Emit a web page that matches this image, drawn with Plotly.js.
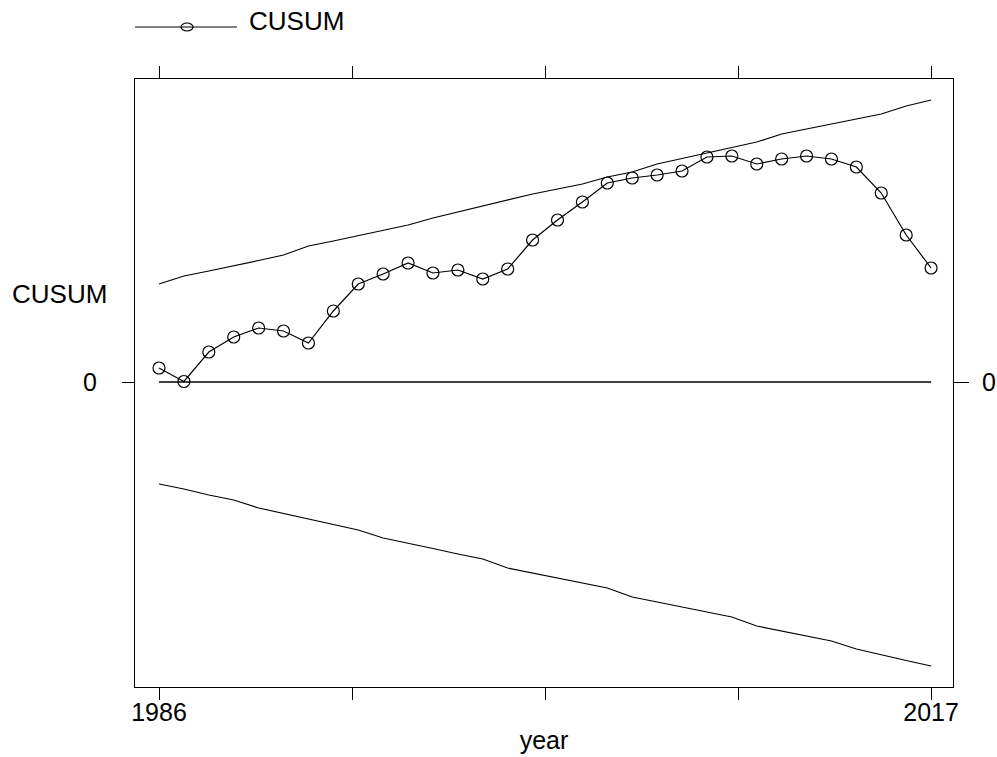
<!DOCTYPE html>
<html>
<head>
<meta charset="utf-8">
<script src="https://cdn.plot.ly/plotly-3.0.1.min.js"></script>
<style>html,body{margin:0;padding:0;background:#fff;}#chart{width:997px;height:757px;}</style>
</head>
<body>
<div id="chart"></div>
<script>
var years = [1986,1987,1988,1989,1990,1991,1992,1993,1994,1995,1996,1997,1998,1999,2000,2001,2002,2003,2004,2005,2006,2007,2008,2009,2010,2011,2012,2013,2014,2015,2016,2017];
var cusum = [1.4,0.05,3.0,4.5,5.4,5.1,3.9,7.1,9.8,10.8,11.9,10.9,11.2,10.3,11.3,14.2,16.2,18.0,19.9,20.4,20.7,21.1,22.5,22.6,21.8,22.3,22.6,22.3,21.5,18.9,14.7,11.4];
var upper = [9.8,10.6,11.1,11.6,12.15,12.7,13.6,14.1,14.65,15.2,15.7,16.4,17.0,17.6,18.2,18.8,19.3,19.8,20.5,21.0,21.8,22.35,22.9,23.4,24.0,24.8,25.3,25.8,26.3,26.8,27.6,28.2];
var lower = [-10.2,-10.7,-11.3,-11.8,-12.6,-13.15,-13.7,-14.25,-14.8,-15.6,-16.1,-16.65,-17.2,-17.7,-18.6,-19.1,-19.6,-20.1,-20.6,-21.5,-22.0,-22.5,-23.0,-23.5,-24.4,-24.9,-25.4,-25.9,-26.7,-27.3,-27.85,-28.4];
var seriesName = 'CUSUM';
var xTitle = 'year';
var yTitle = 'CUSUM';

var first = years[0], last = years[years.length-1];
var xtickvals = [], xticktext = [];
for (var k = 0; k <= 4; k++) {
  xtickvals.push(first + k*(last-first)/4);
  xticktext.push(k === 0 ? String(first) : (k === 4 ? String(last) : ''));
}

var FONT = 'Liberation Sans, Arial, sans-serif';
var yr = [-30.5, 30.3];

var traces = [
  {x: years, y: upper, type: 'scatter', mode: 'lines', line: {color: '#000', width: 1.2}, hoverinfo: 'skip'},
  {x: years, y: lower, type: 'scatter', mode: 'lines', line: {color: '#000', width: 1.2}, hoverinfo: 'skip'},
  {x: [first, last], y: [0, 0], type: 'scatter', mode: 'lines', line: {color: '#000', width: 1.3}, yaxis: 'y2', hoverinfo: 'skip'},
  {x: years, y: cusum, name: seriesName, type: 'scatter', mode: 'lines+markers',
   line: {color: '#000', width: 1.2},
   marker: {symbol: 'circle-open', size: 12, color: '#000', line: {width: 1.2, color: '#000'}}}
];

var layout = {
  width: 997, height: 757,
  margin: {l: 135, r: 44, t: 79, b: 70, pad: 0},
  paper_bgcolor: '#fff', plot_bgcolor: '#fff',
  showlegend: false,
  font: {family: FONT, size: 25, color: '#000'},
  xaxis: {
    range: [1985.036, 2017.88],
    tickmode: 'array', tickvals: xtickvals, ticktext: xticktext,
    ticks: 'outside', ticklen: 12, tickwidth: 1, tickcolor: '#000',
    ticklabelstandoff: -9,
    showline: true, linecolor: '#000', linewidth: 1, mirror: 'ticks',
    showgrid: false, zeroline: false,
    tickfont: {family: FONT, size: 25, color: '#000'},
    title: {text: xTitle, font: {family: FONT, size: 25, color: '#000'}, standoff: 6}
  },
  yaxis: {
    range: yr,
    tickmode: 'array', tickvals: [0], ticktext: ['0'],
    ticks: 'outside', ticklen: 12, tickwidth: 1, tickcolor: '#000',
    ticklabelstandoff: 20,
    showline: true, linecolor: '#000', linewidth: 1, mirror: true,
    showgrid: false, zeroline: false,
    tickfont: {family: FONT, size: 25, color: '#000'}
  },
  yaxis2: {
    range: yr, overlaying: 'y', side: 'right',
    tickmode: 'array', tickvals: [0], ticktext: ['0'],
    ticks: 'outside', ticklen: 15, tickwidth: 1, tickcolor: '#000',
    ticklabelstandoff: 8,
    showline: false, showgrid: false, zeroline: false,
    tickfont: {family: FONT, size: 25, color: '#000'}
  },
  shapes: [
    {type: 'line', xref: 'paper', yref: 'paper', x0: 0, x1: 0.1247, y0: 1.0855, y1: 1.0855, line: {color: '#000', width: 1}},
    {type: 'circle', xref: 'paper', yref: 'paper', xsizemode: 'pixel', ysizemode: 'pixel',
     xanchor: 0.0636, yanchor: 1.0855, x0: -6, x1: 6, y0: -4, y1: 4,
     line: {color: '#000', width: 1.2}, fillcolor: 'rgba(0,0,0,0)'}
  ],
  annotations: [
    {text: seriesName, xref: 'paper', yref: 'paper', x: 0.1369, y: 1.0954, xanchor: 'left', yanchor: 'middle', showarrow: false,
     font: {family: FONT, size: 26, color: '#000'}},
    {text: yTitle, xref: 'paper', yref: 'paper', x: -0.1528, y: 0.6464, xanchor: 'left', yanchor: 'middle', showarrow: false,
     font: {family: FONT, size: 26, color: '#000'}}
  ]
};

Plotly.newPlot('chart', traces, layout, {displayModeBar: false, staticPlot: true});
</script>
</body>
</html>
